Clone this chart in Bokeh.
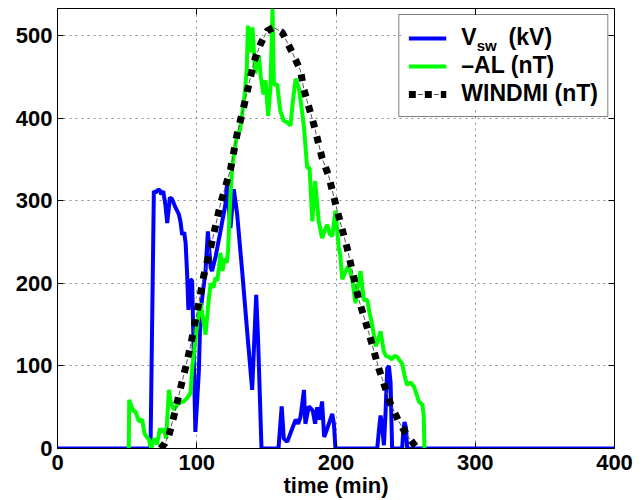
from bokeh.plotting import figure
from bokeh.models import (Range1d, FixedTicker, LinearAxis, Legend, LegendItem, Label,
                          BoxAnnotation)
from bokeh.embed import file_html
from bokeh.resources import INLINE

# ---------------- data ----------------
vsw_t = [0, 66.8, 69.2, 70.5, 72.0, 73.5, 74.5, 75.9, 77.5, 78.8, 80.7, 82.3, 84.7,
         87.1, 88.3, 89.5, 91.0, 92.0, 93.1, 94.0, 95.5, 96.7, 99.0, 101.5, 102.7,
         104.5, 106.3, 108.0, 110.0, 111.0, 113.6, 117.0, 120.6, 121.8, 124.2, 126.6,
         129.0, 132.6, 136.2, 139.8, 142.7, 144.0, 146.5, 158.7, 161.0, 162.5, 165.0,
         168.5, 171.0, 172.8, 174.5, 177.0, 178.0, 180.5, 183.3, 185.0, 186.5, 188.0,
         190.0, 191.5, 193.7, 197.3, 198.5, 199.6, 229.6, 231.0, 232.0, 233.0, 234.4,
         235.5, 236.8, 238.0, 239.2, 240.3, 247.5, 248.3, 249.2, 250.3, 251.1, 400]
vsw_v = [0, 0, 312, 310, 313, 313, 308, 312, 295, 273, 304, 302, 292,
         284, 275, 259, 262, 249, 211, 168, 205, 203, 20, 93, 166,
         190, 215, 263, 219, 215, 233, 263, 296, 322, 267, 314,
         284, 215, 142, 71, 186, 134, 0, 0, 51, 12, 8,
         24, 35, 30, 38, 71, 30, 51, 46, 30, 50, 35,
         57, 14, 24, 42, 30, 0, 0, 25, 40, 30, 4,
         40, 97, 100, 80, 0, 0, 20, 32, 25, 0, 0]

al_t = [51.2, 51.5, 53.6, 54.8, 56.0, 58.4, 60.8, 62.5, 63.2, 65.6, 67.3, 69.2, 71.5,
        73.5, 75.2, 76.4, 78.0, 80.0, 81.2, 83.5, 87.0, 90.7, 93.0, 95.5, 96.7,
        100.3, 102.7, 103.9, 106.3, 108.7, 110.0, 112.0, 113.5, 114.7, 116.0, 117.0,
        118.5, 120.0, 121.5, 122.5, 124.0, 125.4, 127.0, 129.0, 131.0, 133.0, 134.5,
        136.0, 136.7, 138.0, 139.0, 140.0, 142.0, 143.5, 144.6, 146.0, 148.0, 149.4,
        151.3, 153.0, 154.4, 155.4, 157.8, 160.0, 162.5, 165.0, 167.3, 169.0, 171.0,
        173.4, 175.5, 177.0, 179.3, 181.0, 183.0, 185.0, 187.6, 190.0, 192.0, 193.7,
        195.5, 197.3, 199.6, 202.0, 203.0, 204.5, 207.0, 209.0, 211.6, 214.0, 216.0,
        217.6, 220.0, 222.5, 224.0, 226.0, 228.4, 230.0, 232.0, 234.3, 236.0, 238.0,
        240.0, 242.0, 244.0, 246.0, 247.5, 249.0, 251.0, 253.5, 256.0, 258.0, 259.5,
        262.0, 263.0, 263.5]
al_v = [0, 59, 49, 45, 45, 33, 35, 18, 16, 11, 0, 12, 5,
        24, 20, 24, 12, 71, 57, 47, 55, 57, 61, 67, 97,
        150, 176, 164, 138, 182, 200, 195, 207, 203, 220, 237,
        215, 230, 225, 240, 300, 340, 360, 381, 385, 410, 430,
        462, 512, 502, 480, 510, 454, 470, 476, 450, 429, 446,
        403, 440, 533, 441, 441, 409, 397, 395, 391, 420, 448,
        436, 410, 389, 340, 340, 275, 324, 275, 255, 265, 271,
        260, 257, 288, 243, 235, 205, 215, 221, 205, 176, 200,
        215, 180, 180, 165, 150, 124, 130, 142, 118, 112, 111,
        108, 112, 111, 106, 103, 90, 77, 80, 75, 65, 57,
        53, 40, 0]

wm_t = [74.0, 77.0, 80.0, 84.0, 88.3, 92.0, 95.5, 100.3, 105.0, 111.0, 117.0, 124.2,
        129.0, 135.0, 141.0, 145.8, 150.6, 155.3, 161.4, 168.5, 174.5, 176.9, 184.0,
        190.0, 194.8, 200.9, 208.0, 216.4, 223.6, 230.7, 239.0, 245.0, 251.0, 258.3]
wm_v = [0, 6, 16, 42, 73, 98, 124, 166, 209, 251, 296, 338,
        381, 423, 468, 490, 506, 510, 504, 480, 458, 435, 393,
        352, 330, 288, 243, 180, 140, 97, 55, 33, 16, 0]

x_ticks = [0, 100, 200, 300, 400]
y_ticks = [0, 100, 200, 300, 400, 500]
labels = ["V\u00a0\u00a0\u00a0\u00a0\u00a0(kV)", "\u2013AL (nT)", "WINDMI (nT)"]
sub_text = "sw"

FONT = "Liberation Sans"

p = figure(width=640, height=500, output_backend="svg", toolbar_location=None,
           x_range=Range1d(0, 400), y_range=Range1d(0, 533),
           min_border_left=57, min_border_right=26, min_border_top=8,
           min_border_bottom=51)
p.background_fill_color = "white"
p.border_fill_color = "white"
p.outline_line_color = "black"
p.outline_line_width = 1

for ax in (p.xaxis[0], p.yaxis[0]):
    ax.major_label_text_font = FONT
    ax.major_label_text_font_style = "bold"
    ax.major_label_text_font_size = "22px"
    ax.major_label_text_color = "black"
    ax.major_tick_in = 6
    ax.major_tick_out = 0
    ax.minor_tick_line_color = None
    ax.axis_line_color = "black"
    ax.major_tick_line_color = "black"

p.xaxis[0].ticker = FixedTicker(ticks=x_ticks)
p.yaxis[0].ticker = FixedTicker(ticks=y_ticks)
p.xaxis[0].major_label_standoff = 6
p.yaxis[0].major_label_standoff = 5
p.xaxis[0].axis_label = "time (min)"
p.xaxis[0].axis_label_text_font = FONT
p.xaxis[0].axis_label_text_font_style = "bold"
p.xaxis[0].axis_label_text_font_size = "22px"
p.xaxis[0].axis_label_text_color = "black"
p.xaxis[0].axis_label_standoff = 0

# box-style tick marks on top and right (no labels)
top = LinearAxis(ticker=FixedTicker(ticks=x_ticks), major_label_text_font_size="1px",
                 major_label_text_color=None,
                 major_tick_in=6, major_tick_out=0, minor_tick_line_color=None,
                 major_label_standoff=0, axis_line_color="black")
right = LinearAxis(ticker=FixedTicker(ticks=y_ticks), major_label_text_font_size="1px",
                   major_label_text_color=None,
                   major_tick_in=6, major_tick_out=0, minor_tick_line_color=None,
                   major_label_standoff=0, axis_line_color="black")
p.add_layout(top, "above")
p.add_layout(right, "right")

p.xgrid.ticker = FixedTicker(ticks=x_ticks)
p.ygrid.ticker = FixedTicker(ticks=y_ticks)
for g in (p.xgrid[0], p.ygrid[0]):
    g.grid_line_color = "#8a8a8a"
    g.grid_line_dash = "2 4"
    g.grid_line_width = 1

# white backing for the legend (legend itself drawn transparent so the
# subscript label can sit on top of it)
p.add_layout(BoxAnnotation(left=247, right=395, bottom=414, top=525,
                           fill_color="white", fill_alpha=1, line_color=None,
                           level="underlay"))

r_v = p.line(vsw_t, vsw_v, line_color="#0000ff", line_width=4)
r_a = p.line(al_t, al_v, line_color="#00ff00", line_width=4)
r_w1 = p.line(wm_t, wm_v, line_color="black", line_width=7, line_dash="7 9")
r_w2 = p.line(wm_t, wm_v, line_color="#555555", line_width=1, line_dash="5 11",
              line_dash_offset=7)

legend = Legend(items=[LegendItem(label=labels[0], renderers=[r_v]),
                       LegendItem(label=labels[1], renderers=[r_a]),
                       LegendItem(label=labels[2], renderers=[r_w1, r_w2])],
                location="top_right")
legend.label_text_font = FONT
legend.label_text_font_style = "bold"
legend.label_text_font_size = "23px"
legend.label_text_color = "black"
legend.label_height = 22
legend.glyph_height = 22
legend.glyph_width = 38
legend.label_standoff = 15
legend.padding = 9
legend.spacing = 1
legend.margin = 6
legend.border_line_color = "black"
legend.border_line_width = 1.5
legend.background_fill_alpha = 0
p.add_layout(legend)

p.add_layout(Label(x=301, y=488, text=sub_text, text_font=FONT,
                   text_font_style="bold", text_font_size="15px",
                   text_color="black", text_baseline="alphabetic",
                   level="overlay"))

open("out.html", "w").write(file_html(p, INLINE))
